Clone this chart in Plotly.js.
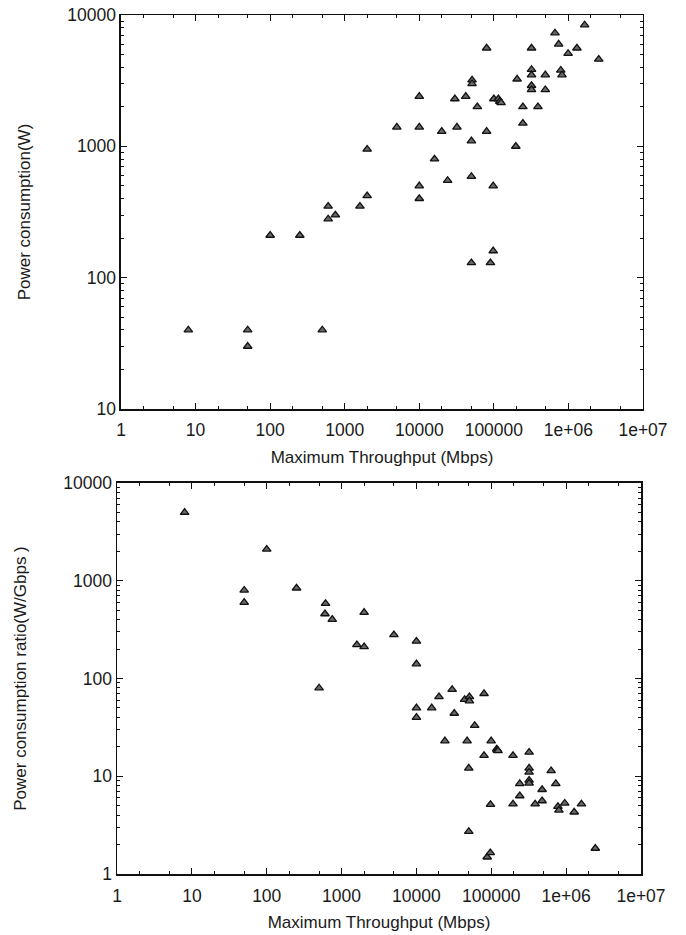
<!DOCTYPE html>
<html>
<head>
<meta charset="utf-8">
<script src="https://cdn.plot.ly/plotly-3.0.1.min.js"></script>
<style>html,body{margin:0;padding:0;background:#fff;}#chart{width:686px;height:935px;}</style>
</head>
<body>
<div id="chart"></div>
<script>
// Top panel: power consumption vs maximum throughput
const powerThroughput = [8, 50, 50, 100, 250, 500, 600, 600, 750, 1600, 2000, 2000, 5000, 10000, 10000, 10000, 10000, 16000, 20000, 24000, 30000, 32000, 42000, 50000, 50000, 51000, 51000, 50000, 60000, 80000, 80000, 90000, 98000, 98000, 100000, 115000, 120000, 125000, 197000, 205000, 245000, 245000, 320000, 320000, 320000, 320000, 320000, 390000, 490000, 490000, 660000, 740000, 790000, 820000, 990000, 1300000, 1650000, 2550000];
const powerWatts = [40, 40, 30, 210, 210, 40, 350, 280, 300, 350, 420, 950, 1400, 2400, 1400, 500, 400, 800, 1300, 550, 2300, 1400, 2400, 590, 1100, 3200, 3000, 130, 2000, 5600, 1300, 130, 160, 500, 2300, 2300, 2200, 2150, 1000, 3250, 2000, 1500, 5600, 3850, 3500, 2900, 2700, 2000, 3500, 2700, 7300, 6000, 3800, 3500, 5100, 5600, 8400, 4600];

// Bottom panel: power consumption ratio vs maximum throughput
const ratioThroughput = [8, 50, 50, 100, 250, 500, 610, 600, 750, 1600, 2000, 2000, 5000, 10000, 10000, 10000, 10000, 16000, 20000, 24000, 30000, 32000, 44000, 50000, 47500, 51000, 51000, 50000, 60000, 80000, 80000, 88000, 97000, 97500, 99500, 118000, 120000, 123000, 195000, 195000, 240000, 240000, 320000, 320000, 320000, 320000, 320000, 385000, 477000, 477000, 630000, 727000, 776000, 800000, 957000, 1280000, 1600000, 2450000];
const ratioWPerGbps = [5000, 800, 600, 2100, 840, 80, 585, 458, 402, 221, 211, 474, 280, 240, 141, 50, 40, 50, 65, 23, 77, 44, 61, 12.1, 23, 65, 59, 2.72, 33, 70, 16.3, 1.49, 1.65, 5.14, 23, 19, 18.5, 18.2, 16.3, 5.2, 8.4, 6.3, 17.6, 12.1, 11, 9.1, 8.5, 5.2, 7.3, 5.6, 11.4, 8.4, 4.9, 4.5, 5.3, 4.3, 5.2, 1.83];

// Tick labels
const xTickVals = [1, 10, 100, 1000, 10000, 100000, 1000000, 10000000];
const xTickText = ['1', '10', '100', '1000', '10000', '100000', '1e+06', '1e+07'];
const yTopTickVals = [10, 100, 1000, 10000];
const yTopTickText = ['10', '100', '1000', '10000'];
const yBotTickVals = [1, 10, 100, 1000, 10000];
const yBotTickText = ['1', '10', '100', '1000', '10000'];

function minorVals(lo, hi, digits) {
  const out = [];
  for (let e = lo; e < hi; e++) {
    for (const d of digits) out.push(d * Math.pow(10, e));
  }
  return out;
}

const font = {family: 'Liberation Sans, Arial, sans-serif', size: 17.5, color: '#1a1a1a'};
const titleFont = {family: 'Liberation Sans, Arial, sans-serif', size: 17, color: '#1a1a1a'};
const marker = {symbol: 'triangle-up', size: 7.5, color: '#686868', line: {color: '#111', width: 1.3}};

function axisBase(extra) {
  return Object.assign({
    type: 'log',
    showgrid: false,
    zeroline: false,
    showline: true,
    linecolor: '#111',
    linewidth: 1.5,
    mirror: 'ticks',
    ticks: 'inside',
    ticklen: 6,
    tickwidth: 1,
    tickcolor: '#111',
    tickmode: 'array',
    tickfont: font
  }, extra);
}

const traces = [
  {x: powerThroughput, y: powerWatts, type: 'scatter', mode: 'markers', marker: marker, xaxis: 'x', yaxis: 'y', showlegend: false, cliponaxis: false},
  {x: ratioThroughput, y: ratioWPerGbps, type: 'scatter', mode: 'markers', marker: marker, xaxis: 'x2', yaxis: 'y2', showlegend: false, cliponaxis: false}
];

const layout = {
  width: 686,
  height: 935,
  margin: {l: 110, r: 40, t: 10, b: 10},
  paper_bgcolor: '#ffffff',
  plot_bgcolor: '#ffffff',
  font: font,
  showlegend: false,
  xaxis: axisBase({
    domain: [0.0205, 0.9944], anchor: 'y',
    range: [0, 7],
    tickvals: xTickVals, ticktext: xTickText,
    ticklabelstandoff: 4,
    minor: {tickmode: 'array', tickvals: minorVals(0, 7, [2, 5]), ticks: 'inside', ticklen: 3, tickcolor: '#111'},
    title: {text: 'Maximum Throughput (Mbps)', font: titleFont, standoff: 12}
  }),
  yaxis: axisBase({
    domain: [0.5639, 0.9945], anchor: 'x',
    range: [1, 4],
    tickvals: yTopTickVals, ticktext: yTopTickText,
    minor: {tickmode: 'array', tickvals: minorVals(1, 4, [2, 3, 4, 5, 6, 7, 8, 9]), ticks: 'inside', ticklen: 3, tickcolor: '#111'},
    title: {text: 'Power consumption(W)', font: titleFont, standoff: 32}
  }),
  xaxis2: axisBase({
    domain: [0.0131, 0.9907], anchor: 'y2',
    range: [0, 7],
    tickvals: xTickVals, ticktext: xTickText,
    ticklabelstandoff: 5,
    minor: {tickmode: 'array', tickvals: minorVals(0, 7, [2, 5]), ticks: 'inside', ticklen: 3, tickcolor: '#111'},
    title: {text: 'Maximum Throughput (Mbps)', font: titleFont, standoff: 11}
  }),
  yaxis2: axisBase({
    domain: [0.0557, 0.4831], anchor: 'x2',
    range: [0, 4],
    tickvals: yBotTickVals, ticktext: yBotTickText,
    minor: {tickmode: 'array', tickvals: minorVals(0, 4, [2, 3, 4, 5, 6, 7, 8, 9]), ticks: 'inside', ticklen: 3, tickcolor: '#111'},
    title: {text: 'Power consumption ratio(W/Gbps )', font: titleFont, standoff: 32}
  })
};

Plotly.newPlot('chart', traces, layout, {displayModeBar: false, staticPlot: true});
</script>
</body>
</html>
